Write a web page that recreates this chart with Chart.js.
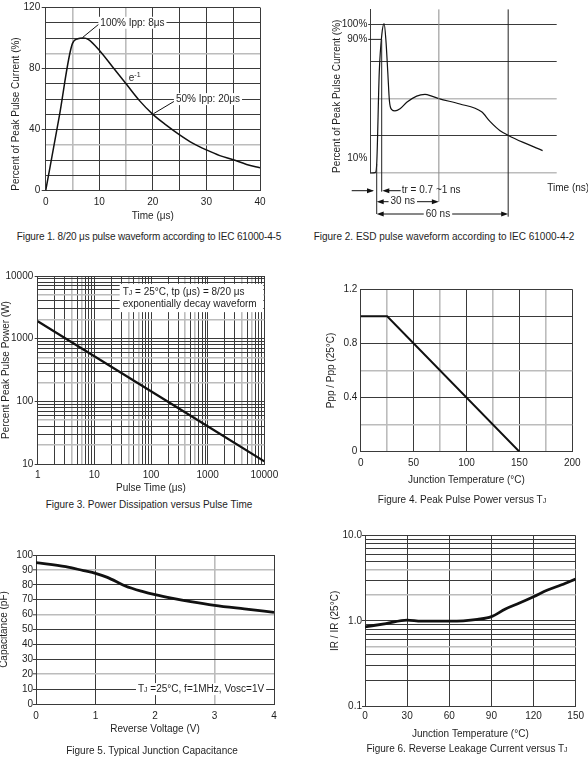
<!DOCTYPE html>
<html><head><meta charset="utf-8">
<script src="https://cdn.jsdelivr.net/npm/chart.js@4.4.1/dist/chart.umd.min.js"></script>
<style>
html,body{margin:0;padding:0;background:#fff;}
body{width:588px;height:758px;position:relative;overflow:hidden;font-family:"Liberation Sans",Arial,Helvetica,sans-serif;color:#1e1e1e;}
canvas{position:absolute;}
.cap{position:absolute;font-size:10px;line-height:12px;white-space:nowrap;text-align:center;width:400px;}
.sub{font-size:7px;}
</style></head><body>
<canvas id="f1"></canvas><canvas id="f2"></canvas><canvas id="f3"></canvas>
<canvas id="f4"></canvas><canvas id="f5"></canvas><canvas id="f6"></canvas>
<div class="cap" style="left:-51px;top:231px;letter-spacing:-0.15px">Figure 1. 8/20 μs pulse waveform according to IEC 61000-4-5</div>
<div class="cap" style="left:244px;top:231px">Figure 2. ESD pulse waveform according to IEC 61000-4-2</div>
<div class="cap" style="left:-51px;top:499px">Figure 3. Power Dissipation versus Pulse Time</div>
<div class="cap" style="left:262px;top:494px">Figure 4. Peak Pulse Power versus T<span class="sub">J</span></div>
<div class="cap" style="left:-48px;top:745px">Figure 5. Typical Junction Capacitance</div>
<div class="cap" style="left:267px;top:743px">Figure 6. Reverse Leakage Current versus T<span class="sub">J</span></div>
<script>
// ---------------- data ----------------
// Figure 1: 8/20 us waveform
const fig1Time    = [0, 2.5, 5, 6, 7, 8, 10, 12.5, 15, 17.5, 20, 22.5, 25, 27.5, 30, 32.5, 35, 37.5, 40];
const fig1Current = [0, 48, 96.5, 99.5, 100, 99, 92, 81, 70, 59, 50, 43, 36.6, 31, 26.7, 23, 20.3, 17.2, 15];
const fig1XTicks  = [0, 10, 20, 30, 40];
const fig1YTicks  = [0, 40, 80, 120];
// Figure 2: ESD waveform (schematic, ns)
const fig2Time    = [0.5, 2.5, 3.1, 4.2, 5.3, 6.3, 7.1, 7.9, 8.6, 9.6, 11.0, 13.2, 16.1, 20.4, 24.0, 26.9, 30.0, 39.1, 48.5, 52.1, 56.5, 60.1, 66.5, 74.9];
const fig2Current = [0, 0.3, 6, 67.7, 93, 100.6, 89, 67.7, 48.6, 42.7, 41.8, 43.3, 47.6, 51.8, 52.9, 51.8, 50.1, 46.5, 41.2, 34.8, 28.5, 25.3, 20.6, 15.1];
const fig2YTicks  = [10, 90, 100];
const fig2Marks   = [3.1, 5.26, 30, 60];   // pulse start, tr, 30 ns, 60 ns
// Figure 3: power vs pulse time
const fig3Time    = [1, 10, 100, 1000, 10000];
const fig3Power   = [1900, 525, 145, 40, 11];
const fig3XTicks  = [1, 10, 100, 1000, 10000];
const fig3YTicks  = [10, 100, 1000, 10000];
// Figure 4: derating
const fig4Temp    = [0, 25, 150];
const fig4Ratio   = [1, 1, 0];
const fig4XTicks  = [0, 50, 100, 150, 200];
const fig4YTicks  = [0, 0.4, 0.8, 1.2];
// Figure 5: capacitance
const fig5Volt    = [0, 0.5, 0.8, 1, 1.2, 1.5, 1.8, 2, 2.3, 2.6, 3, 3.5, 4];
const fig5Cap     = [94.9, 92.2, 89.5, 87.7, 85, 79.2, 75.4, 73.4, 70.9, 68.7, 66.2, 63.8, 61.5];
const fig5XTicks  = [0, 1, 2, 3, 4];
const fig5YTicks  = [0, 10, 20, 30, 40, 50, 60, 70, 80, 90, 100];
// Figure 6: leakage
const fig6Temp    = [0, 15, 30, 40, 60, 70, 80, 90, 100, 110, 120, 130, 140, 150];
const fig6Ratio   = [0.85, 0.93, 1.02, 0.99, 0.99, 1.0, 1.04, 1.12, 1.38, 1.62, 1.92, 2.3, 2.65, 3.1];
const fig6XTicks  = [0, 30, 60, 90, 120, 150];
const fig6YTicks  = [0.1, 1, 10];

// ---------------- style ----------------
const FAMILY = '"Liberation Sans", Arial, Helvetica, sans-serif';
const FONT = {family: FAMILY, size: 10};
const DARK = '#3a3a3a', GRAY = '#bcbcbc', INK = '#1e1e1e', CLEAR = 'rgba(0,0,0,0)';
Chart.defaults.font.family = FAMILY;
Chart.defaults.font.size = 10;
Chart.defaults.color = INK;
Chart.defaults.animation = false;
Chart.defaults.events = [];
Chart.defaults.plugins.legend.display = false;
Chart.defaults.plugins.tooltip.enabled = false;

function near(a, b) { return Math.abs(a - b) <= 1e-6 * Math.max(1, Math.abs(b)); }
function has(list, v) { return list.some(x => near(x, v)); }
function range(a, b, s) { const o = []; for (let v = a; v <= b + s / 1e6; v += s) o.push(Math.round(v * 1e6) / 1e6); return o; }
function logGrid(lo, hi) { const o = []; for (let d = lo; d < hi * 0.999; d *= 10) for (let m = 1; m < 10; m++) o.push(m * d); o.push(hi); return o; }
function mant(v) { return Math.round(v / Math.pow(10, Math.floor(Math.log10(v) + 1e-9))); }
function tv(c) { return c.tick ? c.tick.value : NaN; }

function axis(o) {
  const isY = o.pos === 'left';
  const gray = o.gray || (() => false);
  const hide = o.hide || (() => false);
  return {
    type: o.type || 'linear', position: o.pos, min: o.min, max: o.max,
    afterBuildTicks: s => { s.ticks = o.grid.map(v => ({value: v})); },
    afterFit: s => { if (isY) s.width = o.size; else s.height = o.size; },
    ticks: {
      autoSkip: false, maxRotation: 0, minRotation: 0, padding: o.pad, color: INK, font: FONT,
      callback: v => has(o.labels, v) ? o.fmt(v) : ''
    },
    grid: {
      color: c => hide(tv(c)) ? CLEAR : (gray(tv(c)) ? GRAY : DARK),
      lineWidth: c => gray(tv(c)) ? 1.6 : 1,
      drawTicks: (o.tick || 0) > 0, tickLength: o.tick || 0, tickWidth: 1,
      tickColor: c => has(o.labels, tv(c)) ? DARK : CLEAR
    },
    border: {display: true, color: DARK, width: 1},
    title: o.title ? {display: true, text: o.title, align: o.talign || 'center', color: INK, font: FONT, padding: {top: o.tpad || 0, bottom: o.tpad || 0}} : {display: false}
  };
}

function makeChart(id, box, plot, xAx, yAx, xSize, ds, plugin) {
  const cv = document.getElementById(id);
  cv.width = box.w; cv.height = box.h;
  cv.style.left = box.x + 'px'; cv.style.top = box.y + 'px';
  cv.style.width = box.w + 'px'; cv.style.height = box.h + 'px';
  return new Chart(cv, {
    type: 'line',
    data: {datasets: ds},
    options: {
      responsive: false, devicePixelRatio: 1,
      layout: {padding: {left: 0, top: plot.T - box.y, right: box.x + box.w - plot.R, bottom: box.y + box.h - plot.B - xSize}},
      scales: {x: xAx, y: yAx},
      plugins: {legend: {display: false}, title: {display: false}}
    },
    plugins: plugin ? [plugin] : []
  });
}
function series(xs, ys, w, extra) {
  return Object.assign({data: xs.map((x, i) => ({x, y: ys[i]})), borderColor: '#111', borderWidth: w, pointRadius: 0, fill: false, cubicInterpolationMode: 'monotone'}, extra || {});
}

// rich text helpers
function runs(ctx, parts, x, y, draw) {
  let cx = x;
  for (const p of parts) {
    ctx.font = (p.s || 10) + 'px ' + FAMILY;
    if (draw) ctx.fillText(p.t, cx, y + (p.dy || 0));
    cx += ctx.measureText(p.t).width;
  }
  return cx - x;
}
function label(ctx, parts, x, y, align, bg) {
  ctx.save(); ctx.textBaseline = 'middle'; ctx.textAlign = 'left';
  const w = runs(ctx, parts, 0, 0, false);
  const x0 = align === 'center' ? x - w / 2 : (align === 'right' ? x - w : x);
  if (bg) { ctx.fillStyle = '#fff'; ctx.fillRect(x0 - 2, y - 6, w + 4, 12); }
  ctx.fillStyle = INK;
  runs(ctx, parts, x0, y, true);
  ctx.restore();
  return w;
}
function seg(ctx, x1, y1, x2, y2, color, w) {
  ctx.save(); ctx.strokeStyle = color || '#111'; ctx.lineWidth = w || 1;
  ctx.beginPath(); ctx.moveTo(x1, y1); ctx.lineTo(x2, y2); ctx.stroke(); ctx.restore();
}
function head(ctx, x, y, dir) {
  ctx.save(); ctx.fillStyle = '#111'; ctx.beginPath();
  ctx.moveTo(x, y); ctx.lineTo(x - dir * 7, y - 2.5); ctx.lineTo(x - dir * 7, y + 2.5); ctx.closePath(); ctx.fill(); ctx.restore();
}

// ---------------- Figure 1 ----------------
makeChart('f1', {x: 0, y: 0, w: 294, h: 228}, {L: 45.7, T: 5, R: 260, B: 190.7},
  axis({pos: 'bottom', min: 0, max: 40, grid: range(0, 40, 5), labels: fig1XTicks, fmt: String, gray: v => has([5, 15], v), size: 32, pad: 6, title: 'Time (μs)', tpad: 0}),
  axis({pos: 'left', min: 0, max: 120, grid: range(0, 120, 10), labels: fig1YTicks, fmt: String, gray: v => has([30, 90], v), size: 45.7, pad: 1.5, tick: 4, title: 'Percent of Peak Pulse Current (%)', tpad: 10.7, talign: 'start'}),
  32, [series(fig1Time, fig1Current, 1.5)],
  {id: 'n1', afterDraw(ch) {
    const {ctx, scales: {x, y}} = ch;
    seg(ctx, x.getPixelForValue(6.9), y.getPixelForValue(100.4), x.getPixelForValue(10.1), y.getPixelForValue(109.6));
    label(ctx, [{t: '100% Ipp: 8μs'}], x.getPixelForValue(10.2), y.getPixelForValue(110), 'left', true);
    label(ctx, [{t: 'e'}, {t: '-1', s: 7, dy: -3}], x.getPixelForValue(15.5), y.getPixelForValue(73.7), 'left', false);
    seg(ctx, x.getPixelForValue(20.1), y.getPixelForValue(50.4), x.getPixelForValue(24.1), y.getPixelForValue(58.8));
    label(ctx, [{t: '50% Ipp: 20μs'}], x.getPixelForValue(24.3), y.getPixelForValue(60), 'left', true);
  }});

// ---------------- Figure 2 ----------------
makeChart('f2', {x: 294, y: 0, w: 294, h: 228}, {L: 370.7, T: 0, R: 556.7, B: 173},
  {type: 'linear', min: 0.5, max: 81, display: false},
  axis({pos: 'left', min: 0, max: 110.19, grid: [0, 10, 25, 50, 75, 90, 100], labels: fig2YTicks, fmt: v => v + '%', gray: v => has([0, 50], v), hide: v => has([10, 90], v), size: 76.7, pad: 3.4, title: 'Percent of Peak Pulse Current (%)', tpad: 37.3, talign: 'start'}),
  0, [series(fig2Time, fig2Current, 1.2, {clip: false})],
  {id: 'n2', afterDraw(ch) {
    const {ctx, scales: {x, y}, chartArea: a} = ch;
    const px = v => x.getPixelForValue(v), py = v => y.getPixelForValue(v);
    const [tS, tR, t30, t60] = fig2Marks;
    const base = py(0), rowTr = base + 17.7, row30 = base + 28.7, row60 = base + 41;
    seg(ctx, px(t30), a.top, px(t30), row30, '#8a8a8a', 1);
    seg(ctx, px(t60), a.top, px(t60), row60 + 2.7, '#222', 1);
    seg(ctx, a.left - 2.5, py(100), a.left, py(100), DARK, 1);
    seg(ctx, a.left - 2.5, py(90), px(tR), py(90), '#222', 1);
    seg(ctx, px(tS), py(6), px(tS), row60, '#222', 1);
    seg(ctx, px(tR), py(90), px(tR), rowTr + 1, '#222', 1);
    // incoming arrow
    seg(ctx, px(tS) - 25, rowTr, px(tS) - 4, rowTr); head(ctx, px(tS) - 2.7, rowTr, 1);
    // tr
    seg(ctx, px(tR) + 4, rowTr, px(tR) + 19, rowTr); head(ctx, px(tR) + 0.6, rowTr, -1);
    label(ctx, [{t: 'tr = 0.7 ~1 ns'}], px(tR) + 20, rowTr, 'left', false);
    // 30 ns
    seg(ctx, px(tS) + 3, row30, px(t30) - 3, row30); head(ctx, px(tS), row30, -1); head(ctx, px(t30), row30, 1);
    label(ctx, [{t: '30 ns'}], (px(tS) + px(t30)) / 2 - 5, row30, 'center', true);
    // 60 ns
    seg(ctx, px(tS) + 3, row60, px(t60) - 3, row60); head(ctx, px(tS), row60, -1); head(ctx, px(t60), row60, 1);
    label(ctx, [{t: '60 ns'}], (px(tS) + px(t60)) / 2 - 4.5, row60, 'center', true);
    label(ctx, [{t: 'Time (ns)'}], a.right - 9.4, base + 15.3, 'left', false);
  }});

// ---------------- Figure 3 ----------------
makeChart('f3', {x: 0, y: 260, w: 294, h: 235}, {L: 37.7, T: 276, R: 264.3, B: 464},
  axis({type: 'logarithmic', pos: 'bottom', min: 1, max: 10000, grid: logGrid(1, 10000), labels: fig3XTicks, fmt: String, gray: v => [4, 6].includes(mant(v)), size: 30.3, pad: 5, title: 'Pulse Time (μs)', tpad: 0}),
  axis({type: 'logarithmic', pos: 'left', min: 10, max: 10000, grid: logGrid(10, 10000), labels: fig3YTicks, fmt: String, gray: v => [2, 5].includes(mant(v)), size: 37.7, pad: 1.4, tick: 3, title: 'Percent Peak Pulse Power (W)', tpad: 0}),
  30.3, [series(fig3Time, fig3Power, 2.2, {cubicInterpolationMode: 'default', tension: 0})],
  {id: 'n3', afterDraw(ch) {
    const {ctx, scales: {x, y}, chartArea: a} = ch;
    const x0 = x.getPixelForValue(28), y0 = y.getPixelForValue(7500), y1 = y.getPixelForValue(2650);
    ctx.save(); ctx.fillStyle = '#fff'; ctx.fillRect(x0, y0, a.right - 1 - x0, y1 - y0); ctx.restore();
    label(ctx, [{t: 'T'}, {t: 'J', s: 7, dy: 1}, {t: ' = 25°C, tp (μs) = 8/20 μs'}], x0 + 3, y0 + 8, 'left', false);
    label(ctx, [{t: 'exponentially decay waveform'}], x0 + 3, y0 + 20.5, 'left', false);
  }});

// ---------------- Figure 4 ----------------
makeChart('f4', {x: 294, y: 260, w: 294, h: 230}, {L: 360.7, T: 289.3, R: 572.3, B: 451.7},
  axis({pos: 'bottom', min: 0, max: 200, grid: range(0, 200, 25), labels: fig4XTicks, fmt: String, gray: v => has([25, 75, 125, 175], v), size: 34.3, pad: 5.6, title: 'Junction Temperature (°C)', tpad: 0}),
  axis({pos: 'left', min: 0, max: 1.2, grid: range(0, 1.2, 0.2), labels: fig4YTicks, fmt: v => near(v, 0) ? '0' : v.toFixed(1), gray: v => has([0.2, 0.6], v), size: 66.7, pad: 3.4, title: 'Ppp / Ppp (25°C)', tpad: 31.7}),
  34.3, [series(fig4Temp, fig4Ratio, 2, {cubicInterpolationMode: 'default', tension: 0})]);

// ---------------- Figure 5 ----------------
makeChart('f5', {x: 0, y: 520, w: 294, h: 238}, {L: 36, T: 555, R: 274, B: 704},
  axis({pos: 'bottom', min: 0, max: 4, grid: range(0, 4, 1), labels: fig5XTicks, fmt: String, gray: v => has([3], v), size: 31.3, pad: 6.7, title: 'Reverse Voltage (V)', tpad: 0}),
  axis({pos: 'left', min: 0, max: 100, grid: range(0, 100, 10), labels: fig5YTicks, fmt: String, gray: v => has([20, 60, 90], v), size: 36, pad: 0, tick: 3, title: 'Capacitance (pF)', tpad: -2}),
  31.3, [series(fig5Volt, fig5Cap, 2.8)],
  {id: 'n5', afterDraw(ch) {
    const {ctx, scales: {x, y}} = ch;
    label(ctx, [{t: 'T'}, {t: 'J', s: 7, dy: 1}, {t: ' =25°C, f=1MHz, Vosc=1V'}], x.getPixelForValue(1.714), y.getPixelForValue(10), 'left', true);
  }});

// ---------------- Figure 6 ----------------
makeChart('f6', {x: 294, y: 520, w: 294, h: 238}, {L: 365, T: 535.7, R: 577.3, B: 706},
  axis({pos: 'bottom', min: 0, max: 150, grid: range(0, 150, 30), labels: fig6XTicks, fmt: String, size: 34.3, pad: 4, title: 'Junction Temperature (°C)', tpad: 0}),
  axis({type: 'logarithmic', pos: 'left', min: 0.1, max: 10, grid: logGrid(0.1, 10), labels: fig6YTicks, fmt: v => v.toFixed(1), gray: v => has([0.5, 2, 4], v), size: 71, pad: 0, tick: 3, title: 'IR / IR (25°C)', tpad: 35.7}),
  34.3, [series(fig6Temp, fig6Ratio, 2.8)]);
</script>
</body></html>
